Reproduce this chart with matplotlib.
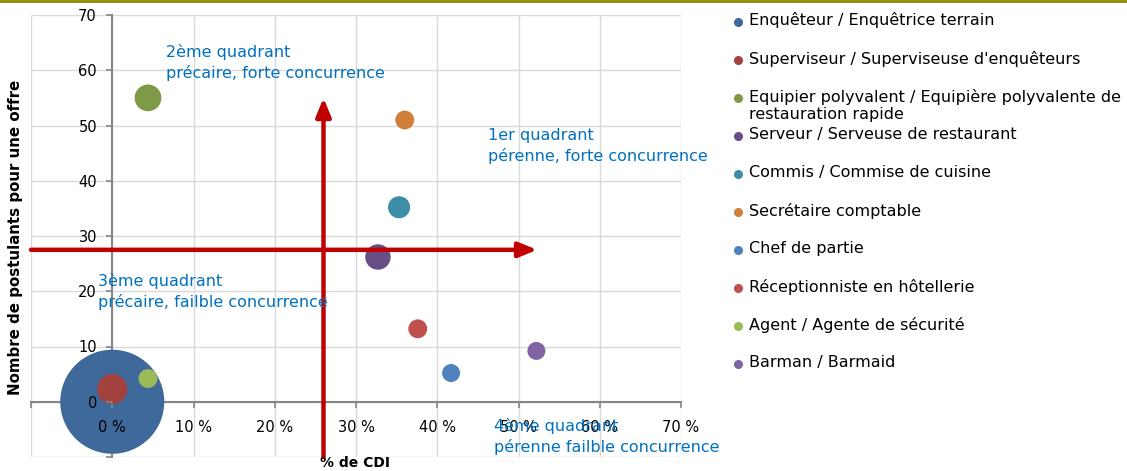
import matplotlib
matplotlib.use("Agg")
import matplotlib.pyplot as plt
from matplotlib.lines import Line2D
from matplotlib.ticker import FuncFormatter

# métiers, % de CDI, nombre de postulants par offre, taille de bulle
metiers = [
    "Enquêteur / Enquêtrice terrain",
    "Superviseur / Superviseuse d'enquêteurs",
    "Equipier polyvalent / Equipière polyvalente de\nrestauration rapide",
    "Serveur / Serveuse de restaurant",
    "Commis / Commise de cuisine",
    "Secrétaire comptable",
    "Chef de partie",
    "Réceptionniste en hôtellerie",
    "Agent / Agente de sécurité",
    "Barman / Barmaid",
]
pct_cdi = [0.0, 0.0, 4.4, 32.7, 35.3, 36.0, 41.7, 37.6, 4.4, 52.2]
postulants = [0.0, 2.3, 55.0, 26.2, 35.2, 51.0, 5.2, 13.2, 4.2, 9.2]
taille = [334, 28, 22, 20, 15, 11, 10, 11, 11, 10]
couleurs = ["#3f689b", "#a2413e", "#7e9a48", "#674f86", "#3b8ea5",
            "#d17e3a", "#4f81bd", "#c0504d", "#9bbb59", "#8064a2"]

seuil_cdi = 26.0
seuil_postulants = 27.5

W, H = 1127, 471
FONT = "DejaVu Sans"
BLEU = "#0070c0"


def main():
    plt.rcParams["font.family"] = FONT
    fig = plt.figure(figsize=(W / 100, H / 100), dpi=100)
    ax = fig.add_axes([31 / W, 1 - 457 / H, 650 / W, 442 / H])

    ax.set_xlim(-10, 70)
    ax.set_ylim(-10, 70)
    ax.set_xticks(range(-10, 71, 10))
    ax.set_yticks(range(-10, 71, 10))
    ax.xaxis.set_major_formatter(
        FuncFormatter(lambda v, p: "" if v < 0 else f"{v:.0f} %"))
    ax.yaxis.set_major_formatter(
        FuncFormatter(lambda v, p: "" if v < 0 else f"{v:.0f}"))

    # quadrillage sous les bulles, étiquettes des axes au-dessus
    for v in range(-10, 71, 10):
        ax.axhline(v, color="#d9d9d9", linewidth=1, zorder=0.5)
        ax.axvline(v, color="#d9d9d9", linewidth=1, zorder=0.5)
    ax.set_axisbelow(False)
    ax.xaxis.set_zorder(10)
    ax.yaxis.set_zorder(10)

    for s in ["top", "right"]:
        ax.spines[s].set_visible(False)
    for s in ["left", "bottom"]:
        ax.spines[s].set_position(("data", 0))
        ax.spines[s].set_color("#868686")
        ax.spines[s].set_linewidth(1.5)
        ax.spines[s].set_zorder(1.5)
    ax.tick_params(direction="out", length=4, width=1.2, color="#868686",
                   labelsize=10.5, labelcolor="black")
    ax.tick_params(axis="x", pad=9)
    ax.tick_params(axis="y", pad=7)

    # bulles (la plus grosse en premier)
    for i in range(len(metiers)):
        ax.scatter(pct_cdi[i], postulants[i], s=taille[i] * 16.8,
                   color=couleurs[i], edgecolors="none", zorder=3 + i * 0.1)

    # flèches des seuils
    arrow = dict(arrowstyle="-|>,head_length=1.1,head_width=0.45",
                 color="#c00000", lw=3.2, shrinkA=0, shrinkB=0)
    ax.annotate("", xy=(seuil_cdi, 55), xytext=(seuil_cdi, -10),
                arrowprops=arrow, zorder=20)
    ax.annotate("", xy=(52.3, seuil_postulants), xytext=(-10, seuil_postulants),
                arrowprops=arrow, zorder=20)

    # quadrants
    txt = dict(color=BLEU, fontsize=11.5, va="center", ha="left",
               linespacing=1.4, zorder=25)
    ax.text(6.6, 61.4, "2ème quadrant\nprécaire, forte concurrence", **txt)
    ax.text(46.3, 46.3, "1er quadrant\npérenne, forte concurrence", **txt)
    ax.text(-1.7, 20.0, "3ème quadrant\nprécaire, failble concurrence", **txt)
    ax.text(47.0, -6.3, "4ème quadrant\npérenne failble concurrence", **txt)

    fig.text(355 / W, 1 - 463 / H, "% de CDI", ha="center", va="center",
             fontsize=10, fontweight="bold")
    fig.text(16 / W, 1 - 237 / H, "Nombre de postulants pour une offre",
             ha="center", va="center", rotation=90, fontsize=10.8,
             fontweight="bold")

    # légende
    for i, nom in enumerate(metiers):
        y = 1 - (21.5 + 38.1 * i) / H
        fig.add_artist(Line2D([738 / W], [y], transform=fig.transFigure,
                              marker="o", markersize=5.5, color=couleurs[i],
                              linestyle="none"))
        fig.text(749 / W, y + 9 / H, nom, ha="left", va="top",
                 fontsize=11.5, linespacing=1.2)

    # filet en haut
    fig.add_artist(Line2D([0, 1], [0.998, 0.998], transform=fig.transFigure,
                          color="#8c8a00", linewidth=2))

    fig.savefig("out.png", dpi=100)


if __name__ == "__main__":
    main()
